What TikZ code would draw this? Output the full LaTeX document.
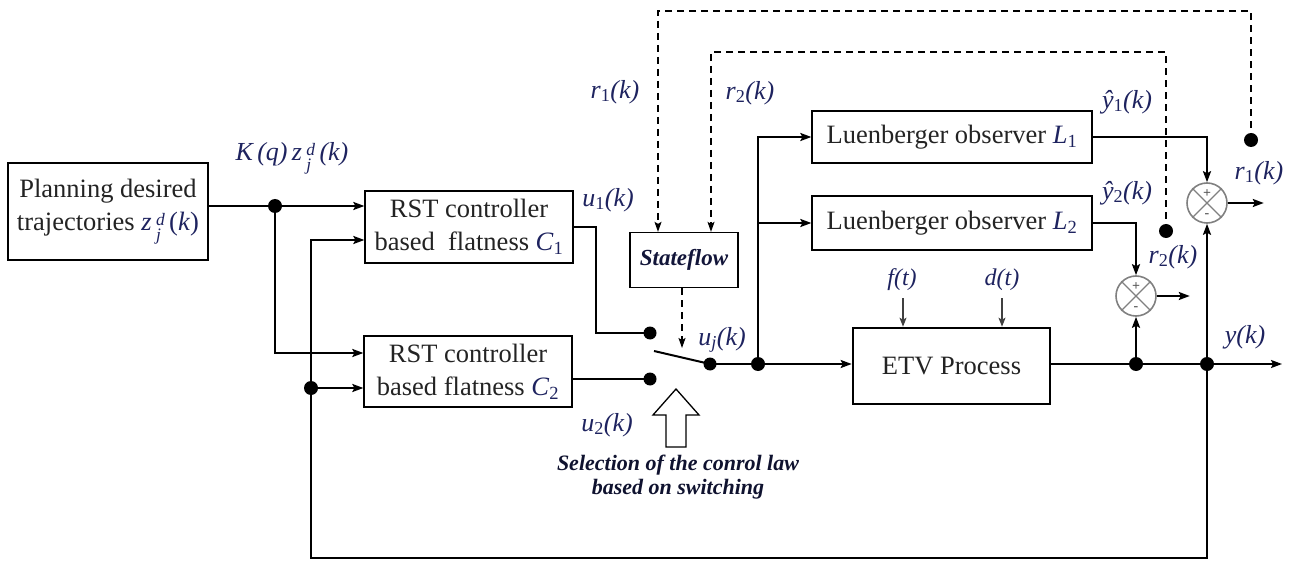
\documentclass[tikz,border=0pt]{standalone}
\usepackage{fontspec}
\setmainfont{Liberation Serif}
\usetikzlibrary{arrows.meta}
\definecolor{navy}{RGB}{30,35,95}
\definecolor{boxtext}{RGB}{35,35,35}
\newcommand{\lo}[1]{\textup{\textsubscript{#1}}}
\newcommand{\zjd}{\textit{z}\,\raisebox{-0.38em}{\fontsize{17.5}{17}\selectfont\itshape\shortstack[l]{d\\j}}}
\begin{document}
\begin{tikzpicture}[x=1pt,y=-1pt,
  font=\fontsize{26.5}{33}\selectfont,
  box/.style={draw, line width=1.3pt, inner sep=0pt, align=center, text=boxtext},
  conn/.style={line width=2pt},
  arr/.style={conn, -{Stealth[length=11pt,width=8pt,inset=2pt]}},
  dline/.style={line width=1.3pt, dash pattern=on 7pt off 5pt, -{Stealth[length=10pt,width=7pt,inset=2pt]}},
  dot/.style={circle, fill, inner sep=0pt, minimum size=14pt},
  sdot/.style={circle, fill, inner sep=0pt, minimum size=13pt},
  lbl/.style={text=navy, font=\fontsize{26}{30}\selectfont\itshape, inner sep=0pt},
  sumnode/.style={circle, draw=gray, line width=1.6pt, minimum size=40pt, inner sep=0pt},
  sign/.style={font=\fontsize{14}{14}\selectfont\bfseries, text=gray!70!black, inner sep=0pt},
  thin arr/.style={line width=1.2pt, -{Stealth[length=9pt,width=7pt,inset=2pt]}, draw=black!75}
]
\useasboundingbox (0,0) rectangle (1295,561);

% blocks
\node[box, minimum width=200pt, minimum height=97pt] (plan) at (108,211.5)
  {Planning desired\\trajectories \textcolor{navy}{\zjd\,(\textit{k})}};
\node[box, minimum width=208pt, minimum height=72pt] (rst1) at (469,227)
  {RST controller\\based\ \ flatness \textcolor{navy}{\textit{C}\lo{1}}};
\node[box, minimum width=208pt, minimum height=71pt] (rst2) at (468,371.5)
  {RST controller\\based flatness \textcolor{navy}{\textit{C}\lo{2}}};
\node[box, minimum width=108pt, minimum height=55pt, text=navy!60!black,
  font=\fontsize{23}{28}\selectfont\bfseries\itshape] (sf) at (684,260) {Stateflow};
\node[box, minimum width=280pt, minimum height=52pt] (L1) at (952,137)
  {Luenberger observer \textcolor{navy}{\textit{L}\lo{1}}};
\node[box, minimum width=280pt, minimum height=54pt] (L2) at (952,223)
  {Luenberger observer \textcolor{navy}{\textit{L}\lo{2}}};
\node[box, line width=2.6pt, minimum width=197pt, minimum height=76pt] (etv) at (951.5,366)
  {ETV Process};
\node[sumnode] (s1) at (1207,203) {};
\node[sumnode] (s2) at (1136,296) {};
\draw[gray, line width=1.3pt] (s1.north west) -- (s1.south east) (s1.north east) -- (s1.south west);
\draw[gray, line width=1.3pt] (s2.north west) -- (s2.south east) (s2.north east) -- (s2.south west);
\node[sign] at (s1) [yshift=9pt] {+};
\node[sign] at (s1) [yshift=-13pt] {-};
\node[sign] at (s2) [yshift=9pt] {+};
\node[sign] at (s2) [yshift=-13pt] {-};

% coordinates
\coordinate (j1) at (275,206);
\coordinate (j2turn) at (275,353);
\coordinate (fbtop) at (311,240);
\coordinate (fb) at (311,388);
\coordinate (bl) at (311,558);
\coordinate (br) at (1207,558);
\coordinate (u1c) at (596,227);
\coordinate (sw1) at (650,333);
\coordinate (sw2) at (650,379);
\coordinate (lev) at (654,351);
\coordinate (swc) at (710,364);
\coordinate (j3) at (758,364);
\coordinate (yj1) at (1136,364);
\coordinate (yj2) at (1207,364);
\coordinate (yend) at (1282,364);
\coordinate (r1dot) at (1251,140);
\coordinate (r2dot) at (1166,231);
\coordinate (o1) at (1251,11);
\coordinate (o2) at (658,11);
\coordinate (i1) at (1166,52);
\coordinate (i2) at (711,52);
\coordinate (swtip) at (682,348);
\coordinate (fin) at (903,298);
\coordinate (din) at (1002,298);

% connectors
\draw[conn] (plan.east|-j1) -- (j1);
\draw[arr] (j1) -- (rst1.west|-j1);
\draw[arr] (j1) |- (rst2.west|-j2turn);
\draw[arr] (yj2) -- (br) -- (bl) -- (fbtop) -- (rst1.west|-fbtop);
\draw[arr] (fb) -- (rst2.west|-fb);
\draw[conn] (rst1.east) -- (u1c) |- (sw1);
\draw[conn] (rst2.east|-sw2) -- (sw2);
\draw[conn] (lev) -- (swc);
\draw[conn] (swc) -- (j3);
\draw[arr] (j3) -- (etv.west|-j3);
\draw[arr] (j3) |- (L1.west);
\draw[arr] (j3|-L2.west) -- (L2.west);
\draw[arr] (L1.east) -| (s1.north);
\draw[arr] (L2.east) -| (s2.north);
\draw[arr] (etv.east|-yend) -- (yend);
\draw[arr] (yj1) -- (s2.south);
\draw[arr] (yj2) -- (s1.south);
\draw[arr] (s1.east) -- ++(36,0);
\draw[arr] (s2.east) -- ++(33,0);
\draw[thin arr] (fin) -- (fin|-etv.north);
\draw[thin arr] (din) -- (din|-etv.north);

% dashed signals
\draw[dline] (r1dot) -- (o1) -- (o2) -- (o2|-sf.north);
\draw[dline] (r2dot) -- (i1) -- (i2) -- (i2|-sf.north);
\draw[dline] (swtip|-sf.south) -- (swtip);

% dots
\foreach \p in {j1,fb,j3,yj1,yj2,r1dot,r2dot} \node[dot] at (\p) {};
\foreach \p in {sw1,sw2,swc} \node[sdot] at (\p) {};

% hollow arrow
\draw[line width=1.3pt, fill=white] (666,447) -- (666,415) -- (653,415) -- (676,389)
  -- (699,415) -- (686,415) -- (686,447) -- cycle;

% labels
\node[lbl] at (292,158) {\textit{K}\,(\textit{q})\,\zjd\,(\textit{k})};
\node[lbl] at (608,200) {u\lo{1}(k)};
\node[lbl] at (607,425) {u\lo{2}(k)};
\node[lbl] at (722,340) {u\textsubscript{j}(k)};
\node[lbl] at (615,92) {r\lo{1}(k)};
\node[lbl] at (750,93) {r\lo{2}(k)};
\node[lbl] at (1127,102) {ŷ\lo{1}(k)};
\node[lbl] at (1127,193) {ŷ\lo{2}(k)};
\node[lbl] at (1259,173) {r\lo{1}(k)};
\node[lbl] at (1173,257) {r\lo{2}(k)};
\node[lbl] at (1245,337) {y(k)};
\node[lbl, font=\fontsize{24}{28}\selectfont\itshape] at (902,280) {f(t)};
\node[lbl, font=\fontsize{24}{28}\selectfont\itshape] at (1002,280) {d(t)};
\node[text=navy!50!black, align=center, inner sep=0pt,
  font=\fontsize{22}{24}\selectfont\bfseries\itshape] at (678,477)
  {Selection of the conrol law\\based on switching};
\end{tikzpicture}
\end{document}
